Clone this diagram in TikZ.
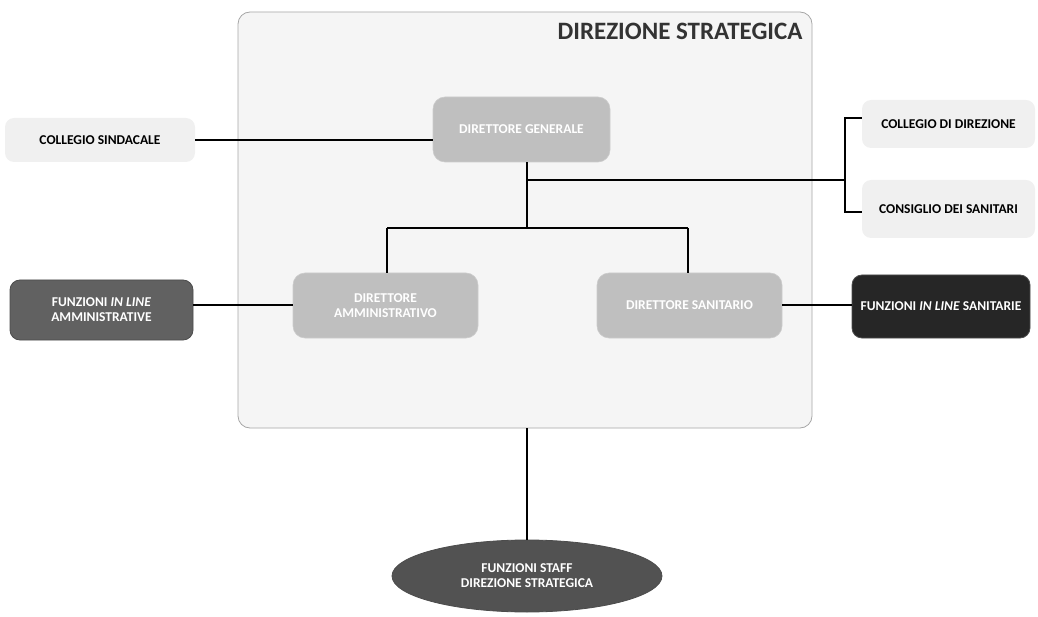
\documentclass[tikz,border=0pt]{standalone}
\usepackage{fontspec}
\setmainfont{Carlito}
\usetikzlibrary{shapes.geometric}
\begin{document}
\begin{tikzpicture}[x=1pt,y=-1pt,
  lbl/.style={font=\bfseries\fontsize{13.5}{15}\selectfont,align=center},
  conn/.style={line width=2pt,black},
  lightbox/.style={lbl,rounded corners=9pt,fill=gray!12,draw=none,text=black},
  rolebox/.style={lbl,rounded corners=12pt,fill=gray!50,draw=gray!40,line width=0.6pt,text=white},
  darkbox/.style={lbl,rounded corners=10pt,draw=black!70,line width=0.8pt,text=white}]
\useasboundingbox (0,0) rectangle (1038,617);
% big frame
\node[draw=gray!70,line width=0.8pt,fill=gray!8,rounded corners=12pt,minimum width=574pt,minimum height=416pt,inner sep=0pt] (frame) at (525,220) {};
\node[anchor=east,font=\bfseries\fontsize{25}{28}\selectfont,text=black!80] (title) at (806,31) {DIREZIONE STRATEGICA};
% nodes
\node[rolebox,minimum width=177pt,minimum height=65pt] (dg) at (521.5,129.5) {DIRETTORE GENERALE};
\node[rolebox,minimum width=185pt,minimum height=65pt] (da) at (385.5,305.5) {DIRETTORE\\AMMINISTRATIVO};
\node[rolebox,minimum width=185pt,minimum height=65pt] (ds) at (689.5,305.5) {DIRETTORE SANITARIO};
\node[lightbox,minimum width=190pt,minimum height=44pt] (cs) at (100,140) {COLLEGIO SINDACALE};
\node[lightbox,minimum width=173pt,minimum height=48pt] (cd) at (948.5,124) {COLLEGIO DI DIREZIONE};
\node[lightbox,minimum width=173pt,minimum height=58pt] (csan) at (948.5,209) {CONSIGLIO DEI SANITARI};
\node[darkbox,fill=black!62,minimum width=183pt,minimum height=60pt] (fla) at (101.5,310) {FUNZIONI \textit{IN LINE}\\AMMINISTRATIVE};
\node[darkbox,fill=black!85,minimum width=178pt,minimum height=63pt,inner xsep=2pt] (fls) at (941,306.5) {FUNZIONI \textit{IN LINE} SANITARIE};
\node[lbl,ellipse,draw=black!70,fill=black!68,line width=0.8pt,minimum width=270pt,minimum height=72pt,inner sep=0pt,text=white] (staff) at (527,576) {FUNZIONI STAFF\\DIREZIONE STRATEGICA};
% junction coordinates
\coordinate (j1) at (527,180);
\coordinate (j2) at (527,228);
\coordinate (jl) at (387,228);
\coordinate (jr) at (688,228);
\coordinate (b) at (845,180);
\coordinate (bt) at (845,118);
\coordinate (bb) at (845,212);
% connectors
\draw[conn] (cs.east) -- (dg.west |- cs.east);
\draw[conn] (dg.south -| j1) -- (j2);
\draw[conn] (j1) -- (b);
\draw[conn] (bt -| cd.west) -- (bt) -- (bb) -- (bb -| csan.west);
\draw[conn] (jl) -- (jr);
\draw[conn] (jl) -- (jl |- da.north);
\draw[conn] (jr) -- (jr |- ds.north);
\draw[conn] (fla.east |- da.west) -- (da.west);
\draw[conn] (ds.east) -- (fls.west |- ds.east);
\draw[conn] (frame.south -| staff.north) -- (staff.north);
\end{tikzpicture}
\end{document}
